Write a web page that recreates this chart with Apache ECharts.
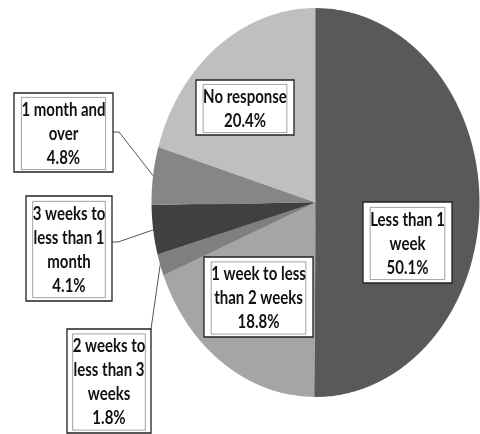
<!DOCTYPE html>
<html>
<head>
<meta charset="utf-8">
<script src="https://cdn.jsdelivr.net/npm/echarts@6/dist/echarts.min.js"></script>
<style>
  html, body { margin: 0; padding: 0; background: #fff; }
  #wrap { position: relative; width: 480px; height: 434px; overflow: hidden; background: #fff; }
  #pie { position: absolute; left: 0; top: 0; width: 480px; height: 434px;
         transform: scaleY(1.186); transform-origin: 315.5px 202.5px; }
  #labels { position: absolute; left: 0; top: 0; width: 480px; height: 434px; }
</style>
</head>
<body>
<div id="wrap"><div id="pie"></div><div id="labels"></div></div>
<script>
// ---- data ----
const categories = ['Less than 1 week', '1 week to less than 2 weeks', '2 weeks to less than 3 weeks',
                    '3 weeks to less than 1 month', '1 month and over', 'No response'];
const values = [50.1, 18.8, 1.8, 4.1, 4.8, 20.4];
const labelLines = ['Less than 1\nweek', '1 week to less\nthan 2 weeks', '2 weeks to\nless than 3\nweeks',
                    '3 weeks to\nless than 1\nmonth', '1 month and\nover', 'No response'];

// ---- style / layout ----
const colors = ['#595959', '#a5a5a5', '#7f7f7f', '#404040', '#868686', '#bfbfbf'];
const CX = 315.5, CY = 202.5, RX = 164, STRETCH = 1.186, RY = RX * STRETCH;
const TEXT_STRETCH = 1.26;
const boxes = [[363, 202, 452, 283], [204, 257, 313, 337], [67, 329, 151, 433],
               [26, 196, 112, 301], [14, 93, 113, 172], [196, 80, 294, 135]];
const leaderStarts = [null, null, [[151, 329]], [[112, 242], [118, 242]], [[113, 132], [119, 132]], null];

// pie layer (stretched vertically to match the elliptical reference)
const pie = echarts.init(document.getElementById('pie'), null, { devicePixelRatio: 2 });
pie.setOption({
  animation: false,
  series: [{
    type: 'pie',
    center: [CX, CY],
    radius: RX,
    startAngle: 90,
    clockwise: true,
    silent: true,
    label: { show: false },
    labelLine: { show: false },
    itemStyle: { borderWidth: 0 },
    data: categories.map((c, i) => ({ name: c, value: values[i], itemStyle: { color: colors[i] } }))
  }]
});

// label layer
const total = values.reduce((a, b) => a + b, 0);
let cum = 0;
const graphics = [];
categories.forEach((c, i) => {
  const mid = (cum + values[i] / 2) / total * 2 * Math.PI;
  cum += values[i];
  const ex = CX + RX * Math.sin(mid), ey = CY - RY * Math.cos(mid);
  if (leaderStarts[i]) {
    graphics.push({
      type: 'polyline', silent: true,
      shape: { points: leaderStarts[i].concat([[ex, ey]]) },
      style: { stroke: '#555', lineWidth: 1, fill: null }
    });
  }
  const b = boxes[i];
  graphics.push({
    type: 'rect', silent: true,
    shape: { x: b[0], y: b[1], width: b[2] - b[0], height: b[3] - b[1] },
    style: { fill: '#fff', stroke: '#222', lineWidth: 1.3 }
  });
  graphics.push({
    type: 'text', silent: true,
    x: (b[0] + b[2]) / 2, y: (b[1] + b[3]) / 2 + 1,
    scaleY: TEXT_STRETCH,
    style: {
      text: labelLines[i] + '\n' + values[i].toFixed(1) + '%',
      align: 'center', verticalAlign: 'middle',
      fontFamily: 'Lato', fontWeight: 'bold', fontSize: 15, lineHeight: 19.1,
      fill: '#111', textBorderColor: '#111', textBorderWidth: 0.35
    }
  });
});
const lab = echarts.init(document.getElementById('labels'));
lab.setOption({ animation: false, graphic: graphics });
</script>
</body>
</html>
